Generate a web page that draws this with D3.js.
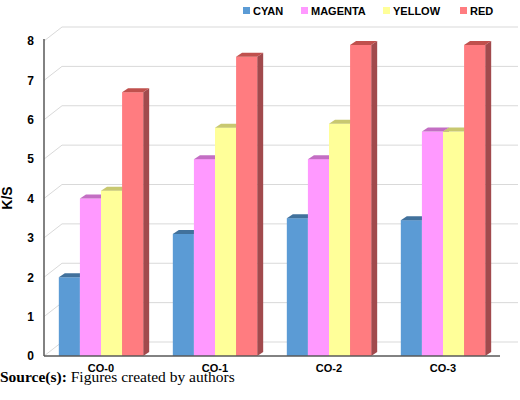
<!DOCTYPE html>
<html><head><meta charset="utf-8">
<script src="https://cdn.jsdelivr.net/npm/d3@7"></script>
<style>body{margin:0;background:#fff}</style>
</head><body>
<svg id="chart" width="520" height="400"></svg>
<script>
var categories = ["CO-0", "CO-1", "CO-2", "CO-3"];
var series = ["CYAN", "MAGENTA", "YELLOW", "RED"];
var cyan = [2.0, 3.1, 3.5, 3.45];
var magenta = [4.0, 5.0, 5.0, 5.7];
var yellow = [4.2, 5.8, 5.9, 5.7];
var red = [6.7, 7.6, 7.9, 7.9];
var yTicks = [0, 1, 2, 3, 4, 5, 6, 7, 8];
var colors = {CYAN:"#5b9bd5", MAGENTA:"#ff99ff", YELLOW:"#ffff99", RED:"#ff7c80"};
var tops = {CYAN:"#41719c", MAGENTA:"#c36ec3", YELLOW:"#c8c870", RED:"#c0504d"};
var sides = {CYAN:"#3f6f9c", MAGENTA:"#b26fb2", YELLOW:"#bcbc6e", RED:"#a14a4d"};
var values = {CYAN:cyan, MAGENTA:magenta, YELLOW:yellow, RED:red};

var svg = d3.select("#chart");
var plotL = 44, plotR = 500, plotT = 41, plotB = 356;
var dx = 18, dy = -14;

var y = d3.scaleLinear().domain([0, 8]).range([plotB, plotT]);
var x0 = d3.scaleBand().domain(categories).range([plotL, plotR]).paddingInner(0.26).paddingOuter(0.13);
var x1 = d3.scaleBand().domain(series).range([0, x0.bandwidth()]);

// back wall gridlines
var grid = svg.append("g");
yTicks.forEach(function(t){
  grid.append("path")
    .attr("d", "M" + plotL + "," + y(t) + "L" + (plotL+dx) + "," + (y(t)+dy) + "L518," + (y(t)+dy))
    .attr("fill", "none").attr("stroke", "#d9d9d9").attr("stroke-width", 1);
});

// bars
var bd = 6, bh = -4;
categories.forEach(function(c, i){
  series.forEach(function(s){
    var v = values[s][i];
    var bx = x0(c) + x1(s), bw = x1.bandwidth(), by = y(v);
    var g = svg.append("g");
    g.append("path").attr("fill", sides[s])
      .attr("d", "M"+(bx+bw)+","+by+"l"+bd+","+bh+"L"+(bx+bw+bd)+","+(plotB+bh)+"L"+(bx+bw)+","+plotB+"Z");
    g.append("rect").attr("x", bx).attr("y", by).attr("width", bw).attr("height", plotB-by).attr("fill", colors[s]);
    g.append("path").attr("fill", tops[s])
      .attr("d", "M"+bx+","+by+"l"+bd+","+bh+"h"+bw+"l"+(-bd)+","+(-bh)+"Z");
  });
});

// axes
svg.append("line").attr("x1", plotL).attr("x2", plotL).attr("y1", plotT-2).attr("y2", plotB).attr("stroke", "#595959").attr("stroke-width", 1.5);
svg.append("line").attr("x1", plotL).attr("x2", plotR).attr("y1", plotB).attr("y2", plotB).attr("stroke", "#595959").attr("stroke-width", 1.5);

var yAxis = d3.axisLeft(y).tickValues(yTicks).tickSize(0).tickPadding(10);
var ya = svg.append("g").attr("transform", "translate(" + plotL + ",0)").call(yAxis);
ya.select(".domain").remove();
ya.selectAll("text").attr("font-family", "Liberation Sans, Arial").attr("font-weight", "bold").attr("font-size", 12).attr("fill", "#000");

var xAxis = d3.axisBottom(x0).tickSize(0).tickPadding(8);
var xa = svg.append("g").attr("transform", "translate(0," + plotB + ")").call(xAxis);
xa.select(".domain").remove();
xa.selectAll("text").attr("font-family", "Liberation Sans, Arial").attr("font-weight", "bold").attr("font-size", 11).attr("fill", "#000");

svg.append("text").attr("transform", "translate(12,198) rotate(-90)")
  .attr("text-anchor", "middle").attr("font-family", "Liberation Sans, Arial")
  .attr("font-weight", "bold").attr("font-size", 14).text("K/S");

// legend
var legX = [243, 301, 383, 460];
series.forEach(function(s, i){
  svg.append("rect").attr("x", legX[i]).attr("y", 7).attr("width", 7).attr("height", 7).attr("fill", colors[s]);
  svg.append("text").attr("x", legX[i] + 10).attr("y", 14.5)
    .attr("font-family", "Liberation Sans, Arial").attr("font-weight", "bold").attr("font-size", 11).text(s);
});

// source
var src = svg.append("text").attr("x", 0).attr("y", 382).attr("font-family", "Liberation Serif, Times New Roman").attr("font-size", 15.5);
src.append("tspan").attr("font-weight", "bold").text("Source(s):");
src.append("tspan").text(" Figures created by authors");
</script>
</body></html>
